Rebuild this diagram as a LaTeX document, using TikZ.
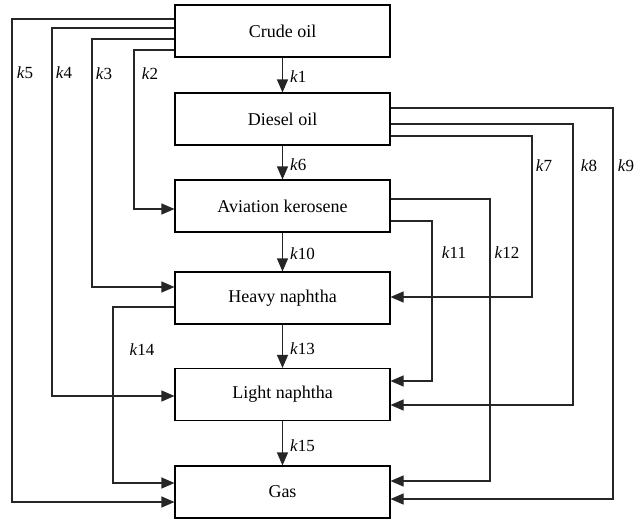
\documentclass[tikz,border=0pt]{standalone}
\usepackage{fontspec}
\setmainfont{Liberation Serif}
\newfontfamily\labelfont{Liberation Serif}
\usetikzlibrary{arrows.meta}
\begin{document}
\begin{tikzpicture}[x=1pt,y=-1pt,
  unit/.style={draw=black, line width=1.1pt, minimum width=215pt, minimum height=52pt,
    inner sep=0pt, font=\labelfont\fontsize{18}{20}\selectfont},
  flow/.style={draw=black!85, line width=1.1pt, -{Triangle[length=13pt,width=11pt]}},
  rate/.style={font=\labelfont\fontsize{17}{19}\selectfont, inner sep=1pt},
  rk/.style={rate, anchor=west}]
\useasboundingbox (0,0) rectangle (634,520);

% process units, top to bottom
\node[unit] (crude) at (282.5,31)  {Crude oil};
\node[unit] (diesel) at (282.5,119) {Diesel oil};
\node[unit] (avk) at (282.5,206)    {Aviation kerosene};
\node[unit] (hn) at (282.5,298)     {Heavy naphtha};
\node[unit] (ln) at (282.5,394.5)   {Light naphtha};
\node[unit] (gas) at (282.5,492)    {Gas};

% consecutive conversions
\draw[flow] (crude) -- (diesel);
\draw[flow] (diesel) -- (avk);
\draw[flow] (avk) -- (hn);
\draw[flow] (hn) -- (ln);
\draw[flow] (ln) -- (gas);
\node[rk] (k1) at (289,77) {\textit{k}1};
\node[rk] (k6) at (289,165) {\textit{k}6};
\node[rk] (k10) at (289,254) {\textit{k}10};
\node[rk] (k13) at (289,349) {\textit{k}13};
\node[rk] (k15) at (289,446) {\textit{k}15};

% ports on the box sides
\coordinate (c5) at ([yshift=12pt]crude.west);
\coordinate (c4) at ([yshift=3pt]crude.west);
\coordinate (c3) at ([yshift=-8pt]crude.west);
\coordinate (c2) at ([yshift=-19pt]crude.west);
\coordinate (d9) at ([yshift=11pt]diesel.east);
\coordinate (d8) at ([yshift=-5pt]diesel.east);
\coordinate (d7) at ([yshift=-17pt]diesel.east);
\coordinate (a12) at ([yshift=7pt]avk.east);
\coordinate (a11) at ([yshift=-15pt]avk.east);
\coordinate (a2) at ([yshift=-3pt]avk.west);
\coordinate (h3) at ([yshift=11pt]hn.west);
\coordinate (h14) at ([yshift=-9pt]hn.west);
\coordinate (h7) at ([yshift=1pt]hn.east);
\coordinate (l4) at ([yshift=-1.5pt]ln.west);
\coordinate (l11) at ([yshift=13.5pt]ln.east);
\coordinate (l8) at ([yshift=-10.5pt]ln.east);
\coordinate (g14) at ([yshift=9pt]gas.west);
\coordinate (g5) at ([yshift=-10pt]gas.west);
\coordinate (g12) at ([yshift=11pt]gas.east);
\coordinate (g9) at ([yshift=-7pt]gas.east);

% bypass routes on the left
\draw[flow] (c5) -- (c5 -| 12,0) -- (g5 -| 12,0) -- (g5);
\draw[flow] (c4) -- (c4 -| 52,0) -- (l4 -| 52,0) -- (l4);
\draw[flow] (c3) -- (c3 -| 92,0) -- (h3 -| 92,0) -- (h3);
\draw[flow] (c2) -- (c2 -| 134,0) -- (a2 -| 134,0) -- (a2);
\draw[flow] (h14) -- (h14 -| 113,0) -- (g14 -| 113,0) -- (g14);
\node[rate] (k5) at (25,73) {\textit{k}5};
\node[rate] (k4) at (64,73) {\textit{k}4};
\node[rate] (k3) at (104,74) {\textit{k}3};
\node[rate] (k2) at (150,74) {\textit{k}2};
\node[rate] (k14) at (142,350) {\textit{k}14};

% bypass routes on the right
\draw[flow] (d9) -- (d9 -| 613,0) -- (g9 -| 613,0) -- (g9);
\draw[flow] (d8) -- (d8 -| 573,0) -- (l8 -| 573,0) -- (l8);
\draw[flow] (d7) -- (d7 -| 532,0) -- (h7 -| 532,0) -- (h7);
\draw[flow] (a12) -- (a12 -| 490,0) -- (g12 -| 490,0) -- (g12);
\draw[flow] (a11) -- (a11 -| 432,0) -- (l11 -| 432,0) -- (l11);
\node[rate] (k7) at (544,166) {\textit{k}7};
\node[rate] (k8) at (589,166) {\textit{k}8};
\node[rate] (k9) at (626,166) {\textit{k}9};
\node[rate] (k11) at (454,253) {\textit{k}11};
\node[rate] (k12) at (507,253) {\textit{k}12};
\end{tikzpicture}
\end{document}
